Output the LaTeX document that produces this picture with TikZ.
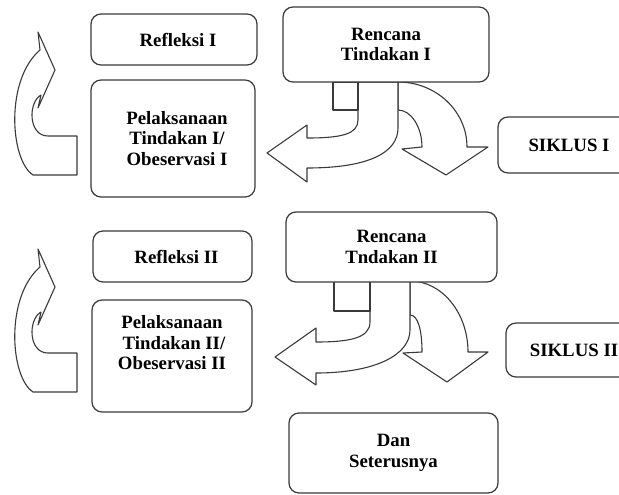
\documentclass[tikz,border=0pt]{standalone}
\usepackage{fontspec}
\setmainfont{Liberation Serif}
\definecolor{linec}{HTML}{3A3A3A}
\begin{document}
\begin{tikzpicture}[x=1pt,y=-1pt,
  box/.style={draw=linec, line width=1.2pt, rounded corners=10pt, fill=white,
    inner sep=0pt, align=center, text=black,
    font=\fontsize{18.8}{20.5}\selectfont\bfseries},
  blockarrow/.style={draw=linec, line width=1.1pt, fill=white, line join=round}]
\useasboundingbox (0,0) rectangle (619,495);
\clip (0,0) rectangle (619,495);

% ---------- left curved arrows ----------
\path[blockarrow] (77,136) -- (77,175) -- (33,175)
  .. controls (10,160) and (5,80) .. (40,50) -- (38,32) -- (55,70) -- (38,108)
  -- (41,95) .. controls (28,102) and (28,136) .. (48,136) -- cycle;
\begin{scope}[yshift=-217pt]
\path[blockarrow] (77,136) -- (77,175) -- (33,175)
  .. controls (10,160) and (5,80) .. (40,50) -- (38,32) -- (55,70) -- (38,108)
  -- (41,95) .. controls (28,102) and (28,136) .. (48,136) -- cycle;
\end{scope}

% ---------- group I middle arrows ----------
\path[blockarrow] (398,82) .. controls (436,82) and (467,111) .. (467,147)
  -- (488,147) -- (446,175) -- (402,149) -- (422,147)
  .. controls (422,127) and (411,110) .. (398,110) -- cycle;
\path[blockarrow] (358,82) -- (358,120) .. controls (358,134) and (342,138) .. (307,138)
  -- (307,125) -- (267,153) -- (307,182) -- (307,168)
  .. controls (370,168) and (398,152) .. (398,128) -- (398,82) -- cycle;
\path[blockarrow] (333,82) rectangle (358,110);

% ---------- group II middle arrows ----------
\path[blockarrow] (410,281) .. controls (442,281) and (468,313) .. (468,352)
  -- (488,352) -- (447,382) -- (403,353) -- (422,352)
  .. controls (422,330) and (418,315) .. (410,315) -- cycle;
\path[blockarrow] (370,281) -- (370,322) .. controls (370,338) and (350,342) .. (316,342)
  -- (316,328) -- (275,357) -- (316,385) -- (316,373)
  .. controls (375,373) and (410,355) .. (410,330) -- (410,281) -- cycle;
\path[blockarrow] (334,281) rectangle (370,311);

% ---------- boxes ----------
\node[box, minimum width=166, minimum height=51] (ref1) at (174,39.5) {\hspace*{8pt}Refleksi I};
\node[box, minimum width=164, minimum height=117] (pel1) at (173,138.5) {\hspace*{8pt}Pelaksanaan\\\hspace*{8pt}Tindakan I/\\\hspace*{8pt}Obeservasi I};
\node[box, minimum width=206, minimum height=75] (ren1) at (386,44.5) {Rencana\\Tindakan I};
\node[box, minimum width=142, minimum height=56] (sik1) at (569,145) {SIKLUS I};
\node[box, minimum width=159, minimum height=51] (ref2) at (172.5,256.5) {\hspace*{8pt}Refleksi II};
\node[box, minimum width=160, minimum height=112] (pel2) at (172,356) {Pelaksanaan\\\hspace*{4pt}Tindakan II/\\Obeservasi II\\[6pt]};
\node[box, minimum width=211, minimum height=70] (ren2) at (391.5,247) {Rencana\\Tndakan II};
\node[box, minimum width=136, minimum height=54] (sik2) at (574,350) {SIKLUS II};
\node[box, minimum width=209, minimum height=80] (dan) at (393.5,453) {Dan\\Seterusnya};
\end{tikzpicture}
\end{document}
